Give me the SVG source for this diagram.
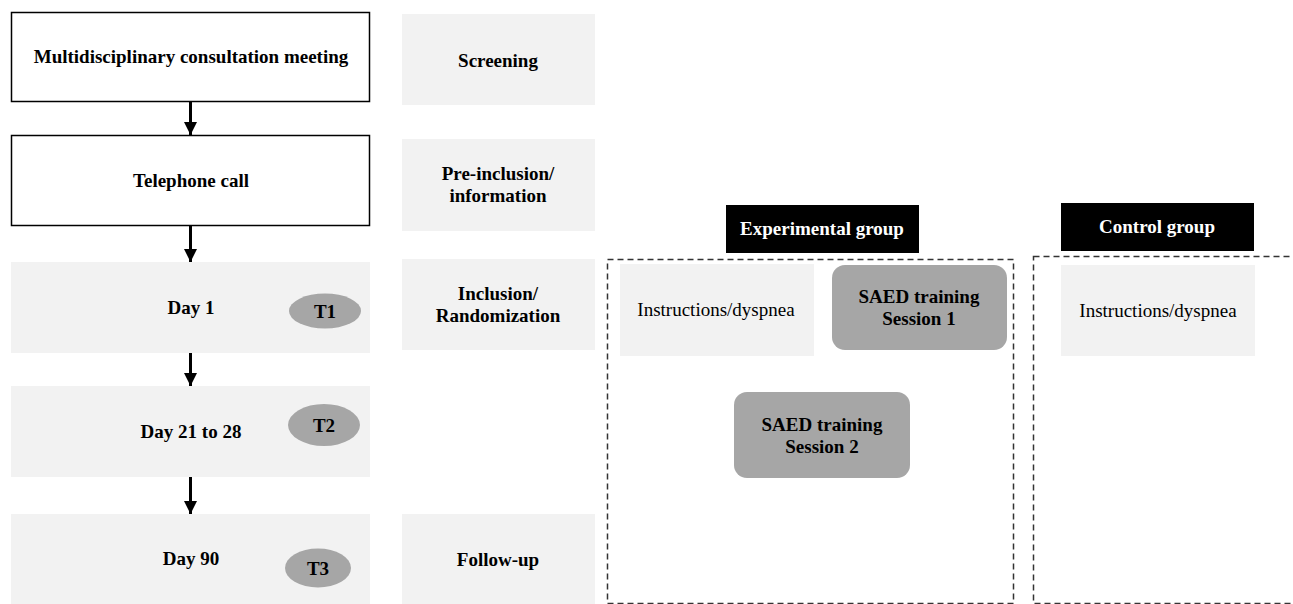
<svg xmlns="http://www.w3.org/2000/svg" width="1293" height="604" viewBox="0 0 1293 604">
<defs>
<marker id="ah" markerWidth="13" markerHeight="13" viewBox="0 0 13 13" refX="13" refY="6.5" orient="auto" markerUnits="userSpaceOnUse">
<path d="M0,0 L13,6.5 L0,13 Z" fill="#000"/>
</marker>
</defs>
<style>
.w{fill:#fff;stroke:#000;stroke-width:1.5}
.g{fill:#f2f2f2}
.e{fill:#a6a6a6}
.blk{fill:#000}
.dash{fill:none;stroke:#333;stroke-width:1.5;stroke-dasharray:6 4}
text{font-family:"Liberation Serif","Times New Roman",serif;font-size:19px;text-anchor:middle;fill:#000}
.b{font-weight:bold}
.wt{fill:#fff;font-weight:bold}
.conn{stroke:#000;stroke-width:3;fill:none}
</style>
<rect width="1293" height="604" fill="#fff"/>
<g id="n-meeting"><rect class="w" x="11.5" y="12.5" width="358" height="89"/><text class="b" x="191" y="63">Multidisciplinary consultation meeting</text></g>
<g id="n-telephone"><rect class="w" x="11.5" y="135.5" width="358" height="90"/><text class="b" x="191" y="187">Telephone call</text></g>
<g id="n-day1"><rect class="g" x="11" y="262" width="359" height="91"/><text class="b" x="191" y="314">Day 1</text><ellipse class="e" cx="325" cy="311" rx="36" ry="17.5"/><text class="b" x="325" y="318">T1</text></g>
<g id="n-day21"><rect class="g" x="11" y="386" width="359" height="91"/><text class="b" x="191" y="438">Day 21 to 28</text><ellipse class="e" cx="324" cy="425" rx="36" ry="21"/><text class="b" x="324" y="432">T2</text></g>
<g id="n-day90"><rect class="g" x="11" y="514" width="359" height="90"/><text class="b" x="191" y="565">Day 90</text><ellipse class="e" cx="318" cy="568" rx="33" ry="19.5"/><text class="b" x="318" y="575">T3</text></g>
<g id="n-screening"><rect class="g" x="402" y="14" width="193" height="91"/><text class="b" x="498" y="67">Screening</text></g>
<g id="n-preinclusion"><rect class="g" x="402" y="139" width="193" height="92"/><text class="b" x="498" y="180">Pre-inclusion/</text><text class="b" x="498" y="202">information</text></g>
<g id="n-inclusion"><rect class="g" x="402" y="259" width="193" height="91"/><text class="b" x="498" y="300">Inclusion/</text><text class="b" x="498" y="322">Randomization</text></g>
<g id="n-followup"><rect class="g" x="402" y="514" width="193" height="90"/><text class="b" x="498" y="566">Follow-up</text></g>
<g id="n-expgroup"><rect class="blk" x="726" y="205" width="193" height="48"/><text class="wt" x="822" y="235">Experimental group</text></g>
<g id="n-ctrlgroup"><rect class="blk" x="1061" y="203" width="193" height="48"/><text class="wt" x="1157" y="233">Control group</text></g>
<g id="n-expbox"><rect class="dash" x="607.5" y="259.5" width="406" height="344"/></g>
<g id="n-ctrlbox"><rect class="dash" x="1033.5" y="256.5" width="270" height="347"/></g>
<g id="n-instr1"><rect class="g" x="620" y="264" width="194" height="92"/><text x="716" y="316">Instructions/dyspnea</text></g>
<g id="n-saed1"><rect class="e" x="832" y="265" width="175" height="85" rx="13"/><text class="b" x="919" y="303">SAED training</text><text class="b" x="919" y="325">Session 1</text></g>
<g id="n-saed2"><rect class="e" x="734" y="392" width="176" height="86" rx="13"/><text class="b" x="822" y="431">SAED training</text><text class="b" x="822" y="453">Session 2</text></g>
<g id="n-instr2"><rect class="g" x="1061" y="265" width="194" height="91"/><text x="1158" y="317">Instructions/dyspnea</text></g>
<g id="connectors">
<line class="conn" x1="190.5" y1="102" x2="190.5" y2="135" marker-end="url(#ah)"/>
<line class="conn" x1="190.5" y1="226" x2="190.5" y2="262" marker-end="url(#ah)"/>
<line class="conn" x1="190.5" y1="353" x2="190.5" y2="386" marker-end="url(#ah)"/>
<line class="conn" x1="190.5" y1="477" x2="190.5" y2="514" marker-end="url(#ah)"/>
</g>
</svg>
